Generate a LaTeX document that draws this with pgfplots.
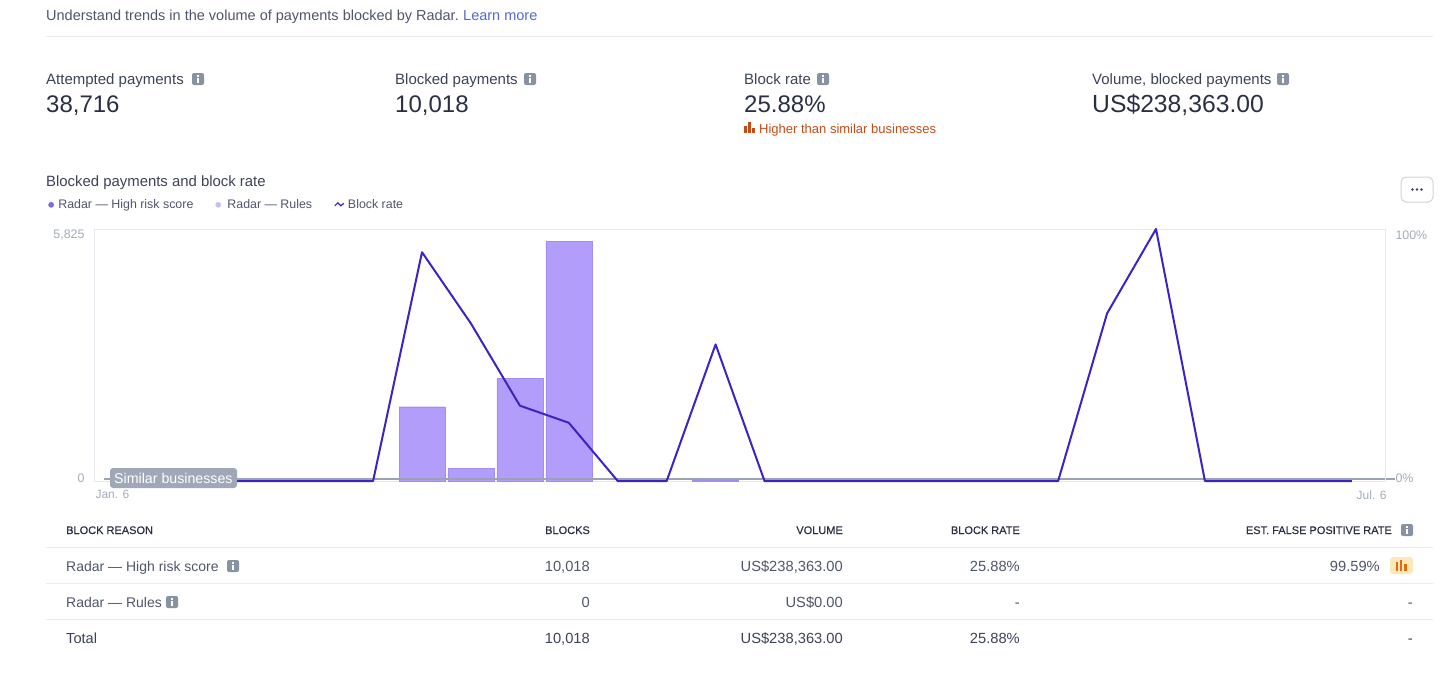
\documentclass[border=0pt]{standalone}
\usepackage{fontspec}
\setmainfont{Liberation Sans}
\newfontfamily\hdr[FakeBold=0.4]{Liberation Sans}
\usepackage{pgfplots}
\pgfplotsset{compat=1.18}
\usepackage{pgfplotstable}

\definecolor{ink}{HTML}{3C4257}
\definecolor{body}{HTML}{4F566B}
\definecolor{big}{HTML}{2A2F45}
\definecolor{hdrc}{HTML}{2A2F45}
\definecolor{tickc}{HTML}{A3ACB9}
\definecolor{frame}{HTML}{E6E8EE}
\definecolor{rulec}{HTML}{E9EBEF}
\definecolor{barc}{HTML}{B39DFB}
\definecolor{baredge}{HTML}{A48DF0}
\definecolor{linec}{HTML}{3D22C4}
\definecolor{dotc}{HTML}{7B68EE}
\definecolor{dotl}{HTML}{C9BCFC}
\definecolor{zero}{HTML}{9AA2B3}
\definecolor{tipc}{HTML}{A0A8B8}
\definecolor{infoc}{HTML}{8792A2}
\definecolor{link}{HTML}{5469D4}
\definecolor{warn}{HTML}{C44C15}
\definecolor{warnbar}{HTML}{E5670F}
\definecolor{warnbg}{HTML}{FCE9B8}

% weekly values, 26 points
\pgfplotstableread{
i n
6 1717
7 300
8 2367
9 5546
12 14
}\blocks
\pgfplotstableread{
i r
0 0
1 0
2 0
3 0
4 0
5 0
6 90.8
7 62.5
8 29.9
9 23.1
10 0
11 0
12 54.2
13 0
14 0
15 0
16 0
17 0
18 0
19 0
20 66.5
21 100
22 0
23 0
24 0
25 0
}\rate

\newcommand{\fs}[1]{\fontsize{#1}{#1}\selectfont}
\newcommand{\info}[2]{%
  \fill[infoc,rounded corners=2pt] (#1-6,#2-6) rectangle (#1+6,#2+6);
  \fill[white] (#1-1,#2-1.5) rectangle (#1+1,#2+4);
  \fill[white] (#1-1,#2-4) rectangle (#1+1,#2-2.5);}

\begin{document}
\begin{tikzpicture}[x=1pt,y=-1pt,
  lab/.style={inner sep=0pt,text=body},
  wlab/.style={lab,anchor=base west},
  elab/.style={lab,anchor=base east}]
\useasboundingbox (0,0) rectangle (1456,688);

% header
\node[wlab,font=\fs{14.5}] at (46,20) {Understand trends in the volume of payments blocked by Radar.};
\node[wlab,font=\fs{14.5},text=link] at (463,20) {Learn more};
\draw[rulec,line width=1pt] (46,36.5) -- (1433,36.5);

% stats
\foreach \x/\t/\v/\ix in {46/Attempted payments/38{,}716/198,395/Blocked payments/10{,}018/530,744/Block rate/25.88\%/823,1092/{Volume, blocked payments}/{\fs{24.7}US\$238{,}363.00}/1283}{
  \node[wlab,font=\fs{15},text=ink] at (\x,84) {\t};
  \node[wlab,font=\fs{24},text=big] at (\x,112) {\v};
  \info{\ix}{79}
}
\fill[warn] (744,126) rectangle (746.5,133);
\fill[warn] (748,122) rectangle (750.5,133);
\fill[warn] (752,128) rectangle (755,133);
\node[wlab,font=\fs{13},text=warn] at (759,133) {Higher than similar businesses};

% chart title and menu button
\node[wlab,font=\fs{14.9},text=ink] at (46,186) {Blocked payments and block rate};
\draw[frame!80!gray,fill=white,rounded corners=5pt,line width=1pt] (1401,177) rectangle (1433,202);
\foreach \d in {1412.5,1417,1421.5}{\fill[ink] (\d,189.5) circle (1.4);}

% bars, left axis
\begin{axis}[
  at={(94pt,-481pt)},anchor=south west,
  scale only axis,width=1291pt,height=252pt,
  xmin=-0.703,xmax=25.68,ymin=0,ymax=5825,
  axis line style={frame,line width=1pt},
  major tick length=0pt,
  xtick={-0.703},xticklabels={Jan. 6},
  xticklabel style={anchor=north west,xshift=-2pt,yshift=-6pt,font=\fs{12},text=tickc},
  extra x ticks={25.68},extra x tick labels={Jul. 6},
  extra x tick style={xticklabel style={anchor=north east,xshift=7pt,font=\fs{12},text=tickc}},
  ytick={0},
  yticklabel style={font=\fs{12.4},text=tickc,yshift=3pt,xshift=-6pt},
  extra y ticks={5825},
  extra y tick style={yticklabel style={font=\fs{12.4},text=tickc,yshift=-9pt,xshift=0pt}},
  /pgf/number format/assume math mode=true,
  /pgf/number format/1000 sep={,},
  legend style={at={(rel axis cs:-0.0355,1.096)},anchor=west,draw=none,fill=none,
    font=\fs{12.4},text=body,inner sep=0pt,
    /tikz/every even column/.append style={column sep=20pt}},
  legend columns=-1,
]
\addplot[ybar,bar width=46pt,bar shift=0pt,draw=baredge,fill=barc,forget plot] table[x=i,y=n] {\blocks};
\addlegendimage{legend image code/.code={\fill[dotc] (0.1cm,0) circle (2.6pt);\path (0.1cm+5pt,0);}}
\addlegendentry{Radar — High risk score}
\addlegendimage{legend image code/.code={\fill[dotl] (0.1cm,0) circle (2.6pt);\path (0.1cm+7pt,0);}}
\addlegendentry{Radar — Rules}
\addlegendimage{legend image code/.code={\draw[linec,line width=1.2pt] (0,-1pt) -- (3pt,2pt) -- (6pt,-1pt) -- (9pt,1.5pt);\path (11pt,0);}}
\addlegendentry{Block rate}
\end{axis}

% baseline of the similar businesses series
\draw[zero,line width=2pt] (104,479) -- (1395,479);

% block rate, right axis
\begin{axis}[
  at={(94pt,-481pt)},anchor=south west,
  scale only axis,width=1291pt,height=252pt,
  xmin=-0.703,xmax=25.68,ymin=0,ymax=100,
  axis y line*=right,axis x line=none,
  axis line style={frame,line width=1pt},
  major tick length=0pt,clip=false,
  ytick={0},
  yticklabel={\pgfmathprintnumber{\tick}\%},
  yticklabel style={font=\fs{12.4},text=tickc,yshift=3pt,xshift=7pt},
  extra y ticks={100},
  extra y tick style={yticklabel style={font=\fs{12.4},text=tickc,yshift=-9pt,xshift=0pt}},
  /pgf/number format/assume math mode=true,
]
\addplot[linec,line width=2pt,line join=round] table[x=i,y=r] {\rate};
\end{axis}

% tooltip over the start of the line
\fill[tipc,rounded corners=3pt] (110,468) rectangle (237,488);
\node[wlab,font=\fs{14.2},text=white] at (114,483) {Similar businesses};

% table
\foreach \y in {547.5,583.5,619.5}{\draw[rulec,line width=1pt] (46,\y) -- (1433,\y);}
\begin{scope}[font=\fs{11}\hdr,lab/.append style={text=hdrc}]
\node[wlab] at (66,534) {BLOCK REASON};
\node[elab] at (590,534) {BLOCKS};
\node[elab] at (843,534) {VOLUME};
\node[elab] at (1020,534) {BLOCK RATE};
\node[elab] at (1392,534) {EST. FALSE POSITIVE RATE};
\end{scope}
\info{1407}{530}
\foreach \y/\a/\b/\c/\d in {571/Radar — High risk score/10{,}018/US\$238{,}363.00/25.88\%,607/Radar — Rules/0/US\$0.00/-}{
  \node[wlab,font=\fs{14}] at (66,\y) {\a};
  \node[elab,font=\fs{14.7}] at (590,\y) {\b};
  \node[elab,font=\fs{14.7}] at (843,\y) {\c};
  \node[elab,font=\fs{14.7}] at (1020,\y) {\d};
}
\info{233}{566}
\info{172}{602}
\node[elab,font=\fs{14.7}] at (1380,571) {99.59\%};
\fill[warnbg,rounded corners=3pt] (1390,557) rectangle (1413,574);
\fill[warnbar] (1395.5,562) rectangle (1397.5,571);
\fill[warnbar] (1399.5,559.5) rectangle (1402,571);
\fill[warnbar] (1404,564) rectangle (1406.5,571);
\node[elab,font=\fs{14.7}] at (1413,607) {-};
\begin{scope}[lab/.append style={text=ink}]
\node[wlab,font=\fs{14.6}] at (66,643) {Total};
\node[elab,font=\fs{14.7}] at (590,643) {10{,}018};
\node[elab,font=\fs{14.7}] at (843,643) {US\$238{,}363.00};
\node[elab,font=\fs{14.7}] at (1020,643) {25.88\%};
\node[elab,font=\fs{14.7}] at (1413,643) {-};
\end{scope}
\end{tikzpicture}
\end{document}
